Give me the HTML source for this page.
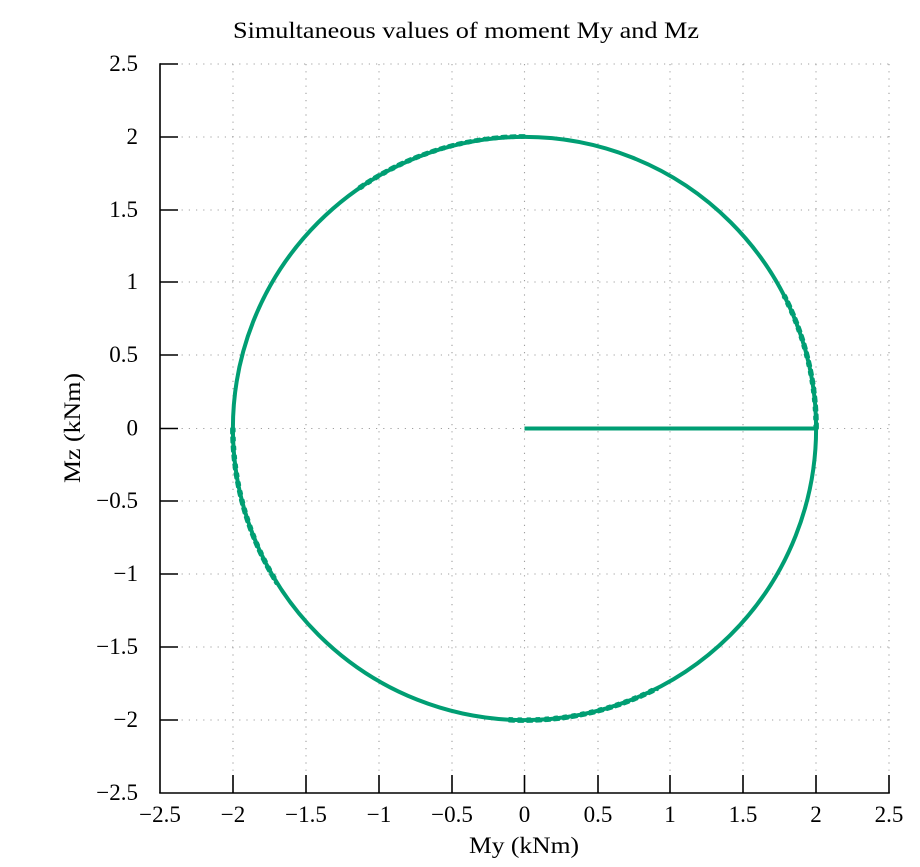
<!DOCTYPE html>
<html>
<head>
<meta charset="utf-8">
<style>
html,body{margin:0;padding:0;background:#fff;}
svg{display:block;}
text{font-family:"Liberation Serif","DejaVu Serif",serif;fill:#000;}
</style>
</head>
<body>
<svg width="920" height="867" viewBox="0 0 920 867" xmlns="http://www.w3.org/2000/svg">
<rect width="920" height="867" fill="#fff"/>
<!-- grid -->
<g stroke="#a0a0a0" stroke-width="1.1" stroke-dasharray="1.2 6" fill="none">
  <line x1="160" y1="64" x2="889" y2="64"/>
  <line x1="160" y1="137" x2="889" y2="137"/>
  <line x1="160" y1="210" x2="889" y2="210"/>
  <line x1="160" y1="282" x2="889" y2="282"/>
  <line x1="160" y1="355" x2="889" y2="355"/>
  <line x1="160" y1="428.5" x2="889" y2="428.5"/>
  <line x1="160" y1="501" x2="889" y2="501"/>
  <line x1="160" y1="574" x2="889" y2="574"/>
  <line x1="160" y1="647" x2="889" y2="647"/>
  <line x1="160" y1="720" x2="889" y2="720"/>
  <line x1="233" y1="64" x2="233" y2="793"/>
  <line x1="306" y1="64" x2="306" y2="793"/>
  <line x1="379" y1="64" x2="379" y2="793"/>
  <line x1="452" y1="64" x2="452" y2="793"/>
  <line x1="524.5" y1="64" x2="524.5" y2="793"/>
  <line x1="598" y1="64" x2="598" y2="793"/>
  <line x1="670" y1="64" x2="670" y2="793"/>
  <line x1="743" y1="64" x2="743" y2="793"/>
  <line x1="816" y1="64" x2="816" y2="793"/>
  <line x1="889" y1="64" x2="889" y2="793"/>
</g>
<!-- data -->
<g stroke="#009e73" fill="none" stroke-linecap="round">
  <circle cx="524.5" cy="428.5" r="291.6" stroke-width="4"/>
  <line x1="524.5" y1="428.5" x2="816" y2="428.5" stroke-width="4" stroke-linecap="butt"/>
  <g stroke-width="2.2" stroke-dasharray="5 4">
    <path d="M524.5 135.2 A293.3 293.3 0 0 0 356.3 188.3"/>
    <path d="M509.2 721.4 A293.3 293.3 0 0 0 657.7 689.8"/>
    <path d="M231.2 428.5 A293.3 293.3 0 0 0 275.8 583.9"/>
    <path d="M817.8 428.5 A293.3 293.3 0 0 0 785.8 295.3"/>
  </g>
  <g stroke-width="2" stroke-dasharray="3 6">
    <path d="M524.5 137.8 A289.9 289.9 0 0 0 358.2 191.0"/>
    <path d="M509.3 718.0 A289.9 289.9 0 0 0 656.1 686.8"/>
    <path d="M234.6 428.5 A289.9 289.9 0 0 0 278.6 582.1"/>
    <path d="M814.4 428.5 A289.9 289.9 0 0 0 782.8 296.9"/>
  </g>
</g>
<!-- axes -->
<g stroke="#000" stroke-width="1.6" fill="none">
  <line x1="160" y1="63.2" x2="160" y2="793"/>
  <line x1="159.2" y1="793" x2="889.8" y2="793"/>
  <line x1="160" y1="64" x2="178" y2="64"/>
  <line x1="160" y1="137" x2="178" y2="137"/>
  <line x1="160" y1="210" x2="178" y2="210"/>
  <line x1="160" y1="282" x2="178" y2="282"/>
  <line x1="160" y1="355" x2="178" y2="355"/>
  <line x1="160" y1="428.5" x2="178" y2="428.5"/>
  <line x1="160" y1="501" x2="178" y2="501"/>
  <line x1="160" y1="574" x2="178" y2="574"/>
  <line x1="160" y1="647" x2="178" y2="647"/>
  <line x1="160" y1="720" x2="178" y2="720"/>
  <line x1="233" y1="775" x2="233" y2="793"/>
  <line x1="306" y1="775" x2="306" y2="793"/>
  <line x1="379" y1="775" x2="379" y2="793"/>
  <line x1="452" y1="775" x2="452" y2="793"/>
  <line x1="524.5" y1="775" x2="524.5" y2="793"/>
  <line x1="598" y1="775" x2="598" y2="793"/>
  <line x1="670" y1="775" x2="670" y2="793"/>
  <line x1="743" y1="775" x2="743" y2="793"/>
  <line x1="816" y1="775" x2="816" y2="793"/>
  <line x1="889" y1="775" x2="889" y2="793"/>
</g>
<!-- y tick labels -->
<g font-size="23" text-anchor="end">
  <text x="138" y="71">2.5</text>
  <text x="138" y="144">2</text>
  <text x="138" y="217">1.5</text>
  <text x="138" y="289">1</text>
  <text x="138" y="362">0.5</text>
  <text x="138" y="435.5">0</text>
  <text x="138" y="508">−0.5</text>
  <text x="138" y="581">−1</text>
  <text x="138" y="654">−1.5</text>
  <text x="138" y="727">−2</text>
  <text x="138" y="800">−2.5</text>
</g>
<!-- x tick labels -->
<g font-size="23" text-anchor="middle">
  <text x="160" y="822">−2.5</text>
  <text x="233" y="822">−2</text>
  <text x="306" y="822">−1.5</text>
  <text x="379" y="822">−1</text>
  <text x="452" y="822">−0.5</text>
  <text x="524.5" y="822">0</text>
  <text x="598" y="822">0.5</text>
  <text x="670" y="822">1</text>
  <text x="743" y="822">1.5</text>
  <text x="816" y="822">2</text>
  <text x="889" y="822">2.5</text>
</g>
<!-- axis labels -->
<text x="524" y="853" font-size="23" text-anchor="middle" textLength="110" lengthAdjust="spacingAndGlyphs">My (kNm)</text>
<text transform="translate(80,428) rotate(-90)" x="0" y="0" font-size="23" text-anchor="middle" textLength="110" lengthAdjust="spacingAndGlyphs">Mz (kNm)</text>
<!-- title -->
<text x="233" y="38" font-size="23" textLength="466" lengthAdjust="spacingAndGlyphs">Simultaneous values of moment My and Mz</text>
</svg>
</body>
</html>
